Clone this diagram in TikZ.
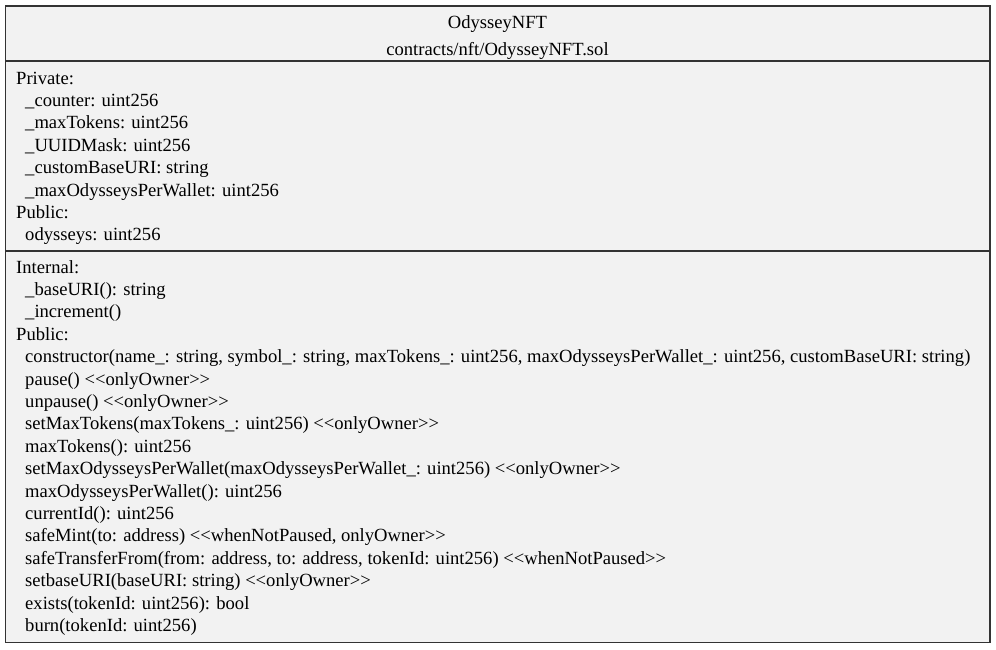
\documentclass[tikz,border=0pt]{standalone}
\usepackage{fontspec}
\setmainfont{Liberation Serif}
\definecolor{boxfill}{HTML}{F2F2F2}
\definecolor{boxline}{HTML}{333333}
\newcommand{\ltlt}{<\kern0pt<}
\newcommand{\gtgt}{>\kern0pt>}

\begin{document}
\begin{tikzpicture}[x=1pt, y=-1pt, font=\fontsize{18.6}{22.4}\selectfont,
    member/.style={anchor=base west, inner sep=0pt},
    heading/.style={anchor=base, inner sep=0pt}]
    \useasboundingbox (0,0) rectangle (996,649);
    \draw[boxline, fill=boxfill, line width=1.5pt] (5.5,6) rectangle (990,642.5);
    \draw[boxline, line width=1.5pt] (5.5,61) -- (990,61);
    \draw[boxline, line width=1.5pt] (5.5,251) -- (990,251);
    % header
    \node[heading] (name) at (497.5,28) {OdysseyNFT};
    \node[heading] (path) at (497.5,55) {contracts/nft/OdysseyNFT.sol};
    % attributes
    \node[member] (priv) at (16,84) {Private:};
    \node[member] (counter) at (25,106.4) {\_counter: uint256};
    \node[member] (maxtok) at (25,128.8) {\_maxTokens: uint256};
    \node[member] (mask) at (25,151.2) {\_UUIDMask: uint256};
    \node[member] (baseuri) at (25,173.6) {\_customBaseURI: string};
    \node[member] (maxwallet) at (25,196) {\_maxOdysseysPerWallet: uint256};
    \node[member] (pubattr) at (16,218.4) {Public:};
    \node[member] (odysseys) at (25,240.8) {odysseys: uint256};
    % operations
    \node[member] (intern) at (16,273) {Internal:};
    \node[member] (fbaseuri) at (25,295.4) {\_baseURI(): string};
    \node[member] (fincr) at (25,317.8) {\_increment()};
    \node[member] (pubop) at (16,340.2) {Public:};
    \node[member] (fctor) at (25,362.6) {constructor(name\_: string, symbol\_: string, maxTokens\_: uint256, maxOdysseysPerWallet\_: uint256, customBaseURI: string)};
    \node[member] (fpause) at (25,385) {pause() \ltlt onlyOwner\gtgt};
    \node[member] (funpause) at (25,407.4) {unpause() \ltlt onlyOwner\gtgt};
    \node[member] (fsetmax) at (25,429.8) {setMaxTokens(maxTokens\_: uint256) \ltlt onlyOwner\gtgt};
    \node[member] (fmax) at (25,452.2) {maxTokens(): uint256};
    \node[member] (fsetwallet) at (25,474.6) {setMaxOdysseysPerWallet(maxOdysseysPerWallet\_: uint256) \ltlt onlyOwner\gtgt};
    \node[member] (fwallet) at (25,497) {maxOdysseysPerWallet(): uint256};
    \node[member] (fcurrent) at (25,519.4) {currentId(): uint256};
    \node[member] (fmint) at (25,541.8) {safeMint(to: address) \ltlt whenNotPaused, onlyOwner\gtgt};
    \node[member] (ftransfer) at (25,564.2) {safeTransferFrom(from: address, to: address, tokenId: uint256) \ltlt whenNotPaused\gtgt};
    \node[member] (fsetbase) at (25,586.6) {setbaseURI(baseURI: string) \ltlt onlyOwner\gtgt};
    \node[member] (fexists) at (25,609) {exists(tokenId: uint256): bool};
    \node[member] (fburn) at (25,631.4) {burn(tokenId: uint256)};
\end{tikzpicture}
\end{document}
